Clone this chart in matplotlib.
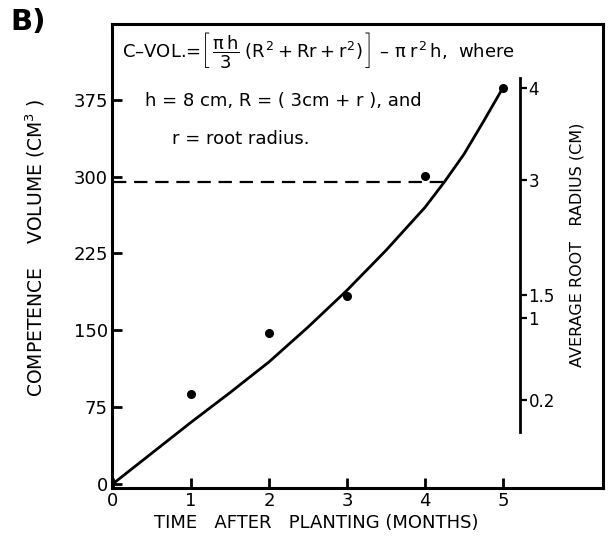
import numpy as np
import matplotlib
matplotlib.use("Agg")
import matplotlib.pyplot as plt

# fonts: wide sans to match the old lettering
plt.rcParams['font.family'] = ['DejaVu Sans']
plt.rcParams['mathtext.fontset'] = 'custom'
plt.rcParams['mathtext.rm'] = 'DejaVu Sans'
plt.rcParams['mathtext.it'] = 'DejaVu Sans'
plt.rcParams['mathtext.bf'] = 'DejaVu Sans:bold'

# ---------------------------------------------------------
# DATA
# ---------------------------------------------------------
obs_months = [1, 2, 3, 4, 5]
obs_volume = [88, 147, 183, 301, 387]

curve_months = [0, 0.5, 1, 1.5, 2, 2.5, 3, 3.5, 4, 4.25, 4.5, 4.75, 5]
curve_volume = [0, 30, 60, 89, 119, 153, 189, 228, 270, 295, 322, 354, 387]

dash_level = 295
dash_end = 4.26

x_ticks = [0, 1, 2, 3, 4, 5]
y_ticks = [0, 75, 150, 225, 300, 375]

radius_labels = ['4', '3', '1.5', '1', '0.2']
radius_at_volume = [387, 297, 184, 162, 82]
radius_axis_x = 5.22
radius_axis_span = (51, 396)

# ---------------------------------------------------------
# FIGURE
# ---------------------------------------------------------
W, H = 611, 536
fig = plt.figure(figsize=(W / 100, H / 100), dpi=100, facecolor="white")
ax = fig.add_axes([112 / W, 1 - 488 / H, 491 / W, 464 / H])

ax.plot(curve_months, curve_volume, color="black", linewidth=2)
ax.plot(obs_months, obs_volume, "o", color="black", markersize=5.5)
ax.plot([0, dash_end], [dash_level, dash_level], color="black",
        linewidth=1.6, linestyle=(0, (6, 3.5)))

ax.set_xlim(-0.01, 6.28)
ax.set_ylim(-4, 449)
ax.set_xticks(x_ticks)
ax.set_yticks(y_ticks)
ax.tick_params(axis="x", direction="in", length=7, width=2,
               labelsize=13, pad=3)
ax.tick_params(axis="y", direction="in", length=7, width=2,
               labelsize=13, pad=3)
for s in ax.spines.values():
    s.set_linewidth(2.2)

# second (radius) axis drawn inside the frame
ax2 = ax.twinx()
ax2.set_ylim(ax.get_ylim())
for side in ["left", "top", "bottom"]:
    ax2.spines[side].set_visible(False)
ax2.spines["right"].set_position(("data", radius_axis_x))
ax2.spines["right"].set_bounds(*radius_axis_span)
ax2.spines["right"].set_linewidth(2)
ax2.set_yticks(radius_at_volume)
ax2.set_yticklabels(radius_labels)
ax2.tick_params(axis="y", direction="out", length=5, width=1.6,
                labelsize=12, pad=1)

# ---------------------------------------------------------
# TEXT
# ---------------------------------------------------------
def px(x, y):
    return x / W, 1 - y / H

fig.text(*px(10, 22), "B)", fontsize=21, fontweight="bold",
         va="center", ha="left")

fig.text(*px(122, 50),
         r"C–VOL.=$\left[\,\dfrac{\pi\,h}{3}\;(R^2 + Rr + r^2)\,\right]$"
         r" – $\pi\;r^2\,h$,  where",
         fontsize=13, va="center", ha="left")
fig.text(*px(145, 101), "h = 8 cm, R = ( 3cm + r ), and",
         fontsize=13, va="center", ha="left")
fig.text(*px(172, 139), "r = root radius.",
         fontsize=13, va="center", ha="left")

fig.text(*px(316, 523), "TIME   AFTER   PLANTING (MONTHS)",
         fontsize=13, va="center", ha="center")
fig.text(*px(35, 248), r"COMPETENCE    VOLUME (CM$^{3}$ )",
         fontsize=13.5, va="center", ha="center", rotation=90)
fig.text(*px(577, 245), "AVERAGE ROOT   RADIUS (CM)",
         fontsize=11.5, va="center", ha="center", rotation=90)

fig.savefig("out.png", dpi=100, facecolor="white")
